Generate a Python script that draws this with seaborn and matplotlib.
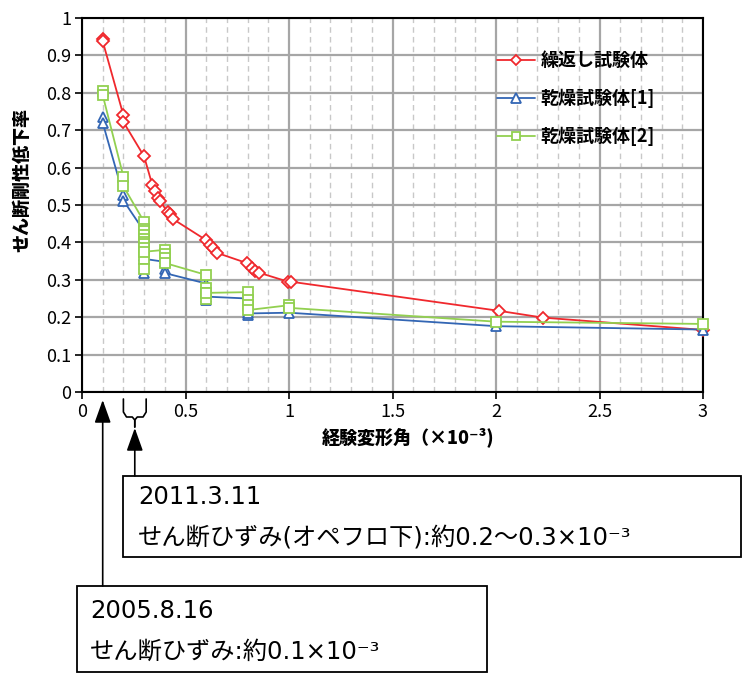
import matplotlib
matplotlib.use('Agg')
import matplotlib.pyplot as plt
import matplotlib.transforms as mtransforms
from matplotlib.patches import Rectangle
from matplotlib.lines import Line2D
from matplotlib.font_manager import FontProperties
import seaborn as sns
import pandas as pd
import numpy as np

# ---------------- data ----------------
series_names = ['繰返し試験体', '乾燥試験体[1]', '乾燥試験体[2]']

rep_x = [0.1, 0.1, 0.2, 0.2, 0.3, 0.34, 0.353, 0.367, 0.375, 0.415, 0.425, 0.438,
         0.60, 0.618, 0.633, 0.652, 0.795, 0.82, 0.836, 0.855, 0.995, 1.008,
         2.015, 2.225, 3.0]
rep_y = [0.945, 0.938, 0.74, 0.722, 0.63, 0.553, 0.537, 0.519, 0.512, 0.48, 0.476, 0.463,
         0.406, 0.394, 0.385, 0.372, 0.345, 0.331, 0.324, 0.319, 0.295, 0.295,
         0.217, 0.199, 0.166]

dry1_x = [0.1, 0.1, 0.2, 0.2, 0.3, 0.3, 0.3, 0.3, 0.3, 0.3, 0.3,
          0.4, 0.4, 0.4, 0.6, 0.6, 0.6, 0.6, 0.8, 0.8, 0.8, 0.8,
          1.0, 2.0, 3.0]
dry1_y = [0.735, 0.72, 0.526, 0.512, 0.43, 0.41, 0.398, 0.385, 0.363, 0.318, 0.356,
          0.348, 0.33, 0.318, 0.29, 0.27, 0.246, 0.255, 0.25, 0.23, 0.206, 0.21,
          0.212, 0.176, 0.167]

dry2_x = [0.1, 0.1, 0.2, 0.2, 0.3, 0.3, 0.3, 0.3, 0.3, 0.3, 0.3, 0.3, 0.3, 0.3, 0.3,
          0.4, 0.4, 0.4, 0.4, 0.6, 0.6, 0.6, 0.6, 0.6,
          0.8, 0.8, 0.8, 0.8, 1.0, 1.0, 2.0, 3.0]
dry2_y = [0.805, 0.794, 0.576, 0.55, 0.455, 0.437, 0.43, 0.42, 0.41, 0.40, 0.395, 0.385, 0.355, 0.33, 0.375,
          0.38, 0.37, 0.357, 0.345, 0.313, 0.277, 0.264, 0.25, 0.265,
          0.267, 0.246, 0.233, 0.219, 0.232, 0.225, 0.188, 0.182]

x_ticks = [0, 0.5, 1, 1.5, 2, 2.5, 3]
y_ticks = [0, 0.1, 0.2, 0.3, 0.4, 0.5, 0.6, 0.7, 0.8, 0.9, 1]
x_label = '経験変形角（×10⁻³)'
y_label = 'せん断剛性低下率'

event_x = [0.1, 0.255]
brace_range = [0.2, 0.31]
note_2005 = ['2005.8.16', 'せん断ひずみ:約0.1×10⁻³']
note_2011 = ['2011.3.11', 'せん断ひずみ(オペフロ下):約0.2〜0.3×10⁻³']

# ---------------- style ----------------
sns.set_style('white')
num_fam = ['Liberation Sans Narrow', 'Noto Sans CJK JP', 'DejaVu Sans']
cjk_fam = ['Noto Sans CJK JP', 'DejaVu Sans']
note_fam = ['DejaVu Sans', 'Noto Sans CJK JP']
plt.rcParams['font.family'] = num_fam
plt.rcParams['axes.unicode_minus'] = False
for k in ['text.color', 'axes.labelcolor', 'xtick.color', 'ytick.color']:
    plt.rcParams[k] = 'black'

W, H = 744, 675
fig = plt.figure(figsize=(W / 100, H / 100), dpi=100)
ax = fig.add_axes([82 / W, 1 - 392 / H, 621 / W, 374 / H])

colors = ['#F0282D', '#3366B4', '#92D050']
markers = ['D', '^', 's']
msizes = [6.5, 7.5, 6.5]
datasets = [(rep_x, rep_y), (dry1_x, dry1_y), (dry2_x, dry2_y)]

handles = []
for name, (xs, ys), c, m, ms in zip(series_names, datasets, colors, markers, msizes):
    d = pd.DataFrame({'x': xs, 'y': ys})
    sns.lineplot(data=d, x='x', y='y', ax=ax, sort=False, estimator=None,
                 color=c, marker=m, markersize=ms, markerfacecolor='white',
                 markeredgecolor=c, markeredgewidth=1.3, linewidth=1.3,
                 clip_on=False, zorder=3)
    handles.append(Line2D([0], [0], color=c, lw=1.3, marker=m, markersize=ms - 1,
                          markerfacecolor='white', markeredgecolor=c, markeredgewidth=1.3))

ax.set_xlim(0, 3)
ax.set_ylim(0, 1)
ax.set_xticks(x_ticks)
ax.set_xticklabels(['%g' % v for v in x_ticks])
ax.set_yticks(y_ticks)
ax.set_yticklabels(['%g' % v for v in y_ticks])
ax.set_xticks(np.arange(0, 3.001, 0.1), minor=True)

ax.grid(which='major', axis='both', color='#a6a6a6', lw=1.6, ls='-', zorder=0)
ax.grid(which='minor', axis='x', color='#c8c8c8', lw=1.0, ls=(0, (4, 3)), zorder=0)
ax.set_axisbelow(True)
for s in ax.spines.values():
    s.set_visible(True)
    s.set_color('black')
    s.set_linewidth(1.5)

ax.tick_params(which='major', direction='out', length=5, width=1.2, color='black',
               labelcolor='black', labelsize=13, pad=3, left=True, bottom=True)
ax.tick_params(which='minor', length=0)

ax.set_xlabel(x_label, family=cjk_fam, fontweight='heavy', fontsize=13, color='black')
ax.set_ylabel(y_label, family=cjk_fam, fontweight='heavy', fontsize=13, color='black')
ax.xaxis.set_label_coords((408 - 82) / 621, (392 - 427) / 374)
ax.yaxis.set_label_coords((31 - 82) / 621, (392 - 180) / 374)

leg = ax.legend(handles, series_names, loc='upper left', bbox_to_anchor=(0.642, 0.955),
                frameon=False, handlelength=2.1, labelspacing=1.05, handletextpad=0.3,
                prop=FontProperties(family=num_fam, weight='bold', size=13))
for t in leg.get_texts():
    t.set_color('black')

# ---------------- annotations ----------------
trans = mtransforms.blended_transform_factory(ax.transData, fig.transFigure)
def py(p):
    return 1 - p / H

ap = dict(arrowstyle='-|>,head_length=0.7,head_width=0.25', color='black', lw=1.2,
          shrinkA=0, shrinkB=0, mutation_scale=20)
ax.annotate('', xy=(event_x[0], py(400)), xycoords=trans,
            xytext=(event_x[0], py(586)), textcoords=trans,
            arrowprops=ap, annotation_clip=False)
ax.annotate('', xy=(event_x[1], py(428)), xycoords=trans,
            xytext=(event_x[1], py(476)), textcoords=trans,
            arrowprops=ap, annotation_clip=False)

x0, x1 = brace_range
xc = event_x[1]
for xa, sgn in ((x0, 1), (x1, -1)):
    bx = [xa, xa, xa + sgn * 0.015, xc - sgn * 0.012, xc, xc]
    by = [py(399), py(412), py(417), py(417), py(420), py(427)]
    fig.add_artist(Line2D(bx, by, transform=trans, color='black', lw=1.2))

fig.add_artist(Rectangle((123 / W, py(557)), (741 - 123) / W, (557 - 476) / H,
                         transform=fig.transFigure, fill=False, ec='black', lw=1.3))
fig.add_artist(Rectangle((77 / W, py(672)), (487 - 77) / W, (672 - 586) / H,
                         transform=fig.transFigure, fill=False, ec='black', lw=1.3))

fs = 17.5
fig.text(138 / W, py(497), note_2011[0], ha='left', va='center', fontsize=fs, family=note_fam, color='black')
fig.text(138 / W, py(538), note_2011[1], ha='left', va='center', fontsize=fs, family=note_fam, color='black')
fig.text(90 / W, py(611), note_2005[0], ha='left', va='center', fontsize=fs, family=note_fam, color='black')
fig.text(90 / W, py(652), note_2005[1], ha='left', va='center', fontsize=fs, family=note_fam, color='black')

fig.savefig('out.png', dpi=100)
